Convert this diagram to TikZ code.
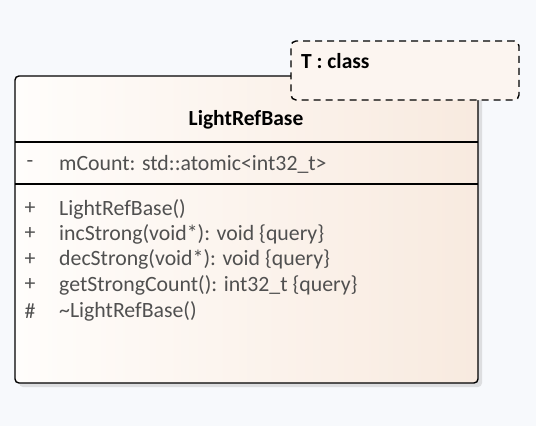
\documentclass[tikz,border=0pt]{standalone}
\usepackage{fontspec}
\setmainfont{Carlito}
\definecolor{bg}{HTML}{F7F9FC}
\definecolor{fillL}{HTML}{FFFDFB}
\definecolor{fillR}{HTML}{F8EADF}
\definecolor{memtxt}{HTML}{505050}
\definecolor{shadowc}{HTML}{DDDEE0}
\begin{document}
\begin{tikzpicture}[x=1pt,y=-1pt,
  member/.style={anchor=west,inner sep=0pt,text=memtxt,font=\fontsize{21.8}{24}\selectfont},
  vis/.style={anchor=center,inner sep=0pt,text=memtxt,font=\fontsize{21.8}{24}\selectfont},
  sepline/.style={line width=1.6pt,black},
]
\useasboundingbox[fill=bg] (0,0) rectangle (536,426);
% shadow
\fill[shadowc,rounded corners=4pt] (19,80) rectangle (482,387);
% class box
\node[draw=black,line width=1.4pt,rounded corners=4pt,left color=fillL,right color=fillR,
  minimum width=463pt,minimum height=307pt,inner sep=0pt] (cls) at (246.5,229.5) {};
\coordinate (s1l) at (15,142); \coordinate (s1r) at (478,142);
\coordinate (s2l) at (15,184); \coordinate (s2r) at (478,184);
\draw[sepline] (s1l) -- (s1r);
\draw[sepline] (s2l) -- (s2r);
\node[inner sep=0pt,font=\bfseries\fontsize{21.5}{24}\selectfont] (title) at (246,120) {LightRefBase};
\node[vis] (v0) at (30,164) {-};
\node[member] (m0) at (59,164) {mCount: std::atomic<int32\_t>};
\node[vis] (v1) at (30,209) {+};
\node[member] (m1) at (59,209) {LightRefBase()};
\node[vis] (v2) at (30,234) {+};
\node[member] (m2) at (59,234) {incStrong(void*): void \{query\}};
\node[vis] (v3) at (30,259.5) {+};
\node[member] (m3) at (59,259.5) {decStrong(void*): void \{query\}};
\node[vis] (v4) at (30,285) {+};
\node[member] (m4) at (59,285) {getStrongCount(): int32\_t \{query\}};
\node[vis] (v5) at (30,311) {\#};
\node[member] (m5) at (59,311) {\textasciitilde LightRefBase()};
% template parameter box
\node[draw=black,line width=1.4pt,dash pattern=on 7pt off 5pt,rounded corners=5pt,fill=fillL!60!fillR,
  minimum width=228pt,minimum height=59pt,inner sep=0pt] (tpl) at (405,70.5) {};
\node[anchor=west,inner sep=0pt,font=\bfseries\fontsize{21.5}{24}\selectfont] (tpltxt) at (301,61) {T : class};
\end{tikzpicture}
\end{document}
